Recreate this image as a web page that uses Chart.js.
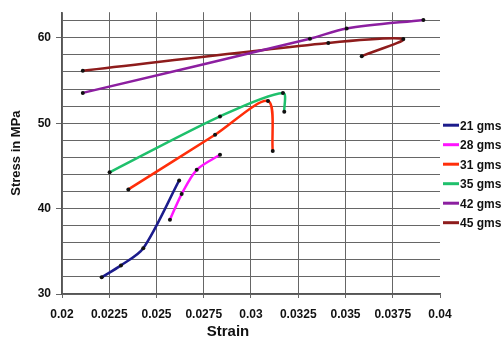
<!DOCTYPE html>
<html>
<head>
<meta charset="utf-8">
<script src="https://cdn.jsdelivr.net/npm/chart.js@4"></script>
<style>
  html, body { margin: 0; padding: 0; background: #fff; overflow: hidden; }
  canvas { display: block; }
</style>
</head>
<body>
<canvas id="stressChart" width="504" height="342"></canvas>
<script>
// values
const seriesLabels = ['21 gms', '28 gms', '31 gms', '35 gms', '42 gms', '45 gms'];
const seriesColors = ['#1c1c8c', '#ff14ff', '#ff2e0a', '#1fc06c', '#8c1fa0', '#8e1c1c'];

const strain21 = [0.0221, 0.02312, 0.0243, 0.0262];
const stress21 = [31.95, 33.35, 35.35, 43.3];
const strain28 = [0.02571, 0.02633, 0.02713, 0.02836];
const stress28 = [38.7, 41.7, 44.55, 46.3];
const strain31 = [0.02351, 0.0281, 0.0309, 0.03115];
const stress31 = [42.25, 48.65, 52.6, 46.75];
const strain35 = [0.02252, 0.02836, 0.03169, 0.03176];
const stress35 = [44.25, 50.8, 53.55, 51.35];
const strain42 = [0.0211, 0.03312, 0.03506, 0.03912];
const stress42 = [53.55, 59.9, 61.1, 62.1];
const strain45 = [0.0211, 0.03409, 0.03806, 0.03586];
const stress45 = [56.15, 59.4, 59.85, 57.85];

const xTicks = [0.02, 0.0225, 0.025, 0.0275, 0.03, 0.0325, 0.035, 0.0375, 0.04];
const yTicks = [30, 32, 34, 36, 38, 40, 42, 44, 46, 48, 50, 52, 54, 56, 58, 60, 62];

const strains = [strain21, strain28, strain31, strain35, strain42, strain45];
const stresses = [stress21, stress28, stress31, stress35, stress42, stress45];

const datasets = seriesLabels.map((label, i) => ({
  label: label,
  data: strains[i].map((x, j) => ({ x: x, y: stresses[i][j] })),
  showLine: true,
  borderColor: seriesColors[i],
  borderWidth: 2.5,
  tension: 0.3,
  pointRadius: 2,
  pointBackgroundColor: '#111',
  pointBorderWidth: 0,
}));

// legend on the right and the x title, placed like the original
const sideBits = {
  id: 'sideBits',
  afterDraw(chart) {
    const ctx = chart.ctx;
    const area = chart.chartArea;
    ctx.save();
    ctx.font = 'bold 12px "Liberation Sans", Arial, sans-serif';
    ctx.textBaseline = 'middle';
    ctx.textAlign = 'left';
    chart.data.datasets.forEach((ds, i) => {
      const y = area.top + 113 + i * 19.5;
      ctx.strokeStyle = ds.borderColor;
      ctx.lineWidth = 3;
      ctx.beginPath();
      ctx.moveTo(area.right + 3, y);
      ctx.lineTo(area.right + 19, y);
      ctx.stroke();
      ctx.fillStyle = '#111';
      ctx.fillText(ds.label, area.right + 20, y + 1);
    });
    ctx.font = 'bold 15px "Liberation Sans", Arial, sans-serif';
    ctx.textAlign = 'center';
    ctx.fillText('Strain', 228, 332);
    ctx.restore();
  },
};

new Chart(document.getElementById('stressChart').getContext('2d'), {
  type: 'scatter',
  data: { datasets: datasets },
  plugins: [sideBits],
  options: {
    responsive: false,
    animation: false,
    devicePixelRatio: 1,
    layout: { padding: { top: 7, right: 64, left: 0, bottom: 0 } },
    plugins: {
      legend: { display: false },
      tooltip: { enabled: false },
    },
    scales: {
      x: {
        type: 'linear',
        min: 0.02,
        max: 0.04,
        afterBuildTicks: (s) => { s.ticks = xTicks.map((v) => ({ value: v })); },
        afterFit: (s) => { s.height = 48; },
        ticks: {
          autoSkip: false,
          maxRotation: 0,
          padding: 9,
          color: '#111',
          font: { family: '"Liberation Sans", Arial, sans-serif', size: 12, weight: 'bold' },
          callback: (v) => String(+Number(v).toFixed(4)),
        },
        grid: {
          color: (c) => (c.tick && c.tick.value >= 0.04 ? 'rgba(0,0,0,0)' : '#666'),
          tickColor: '#666',
          tickLength: 4,
        },
        border: { color: '#555', width: 1.2 },
      },
      y: {
        type: 'linear',
        min: 30,
        max: 63,
        afterBuildTicks: (s) => { s.ticks = yTicks.map((v) => ({ value: v })); },
        afterFit: (s) => { s.width = 62; },
        title: {
          display: true,
          text: 'Stress in MPa',
          color: '#111',
          padding: { top: 9, bottom: 0 },
          font: { family: '"Liberation Sans", Arial, sans-serif', size: 13, weight: 'bold' },
        },
        ticks: {
          autoSkip: false,
          padding: 5,
          color: '#111',
          font: { family: '"Liberation Sans", Arial, sans-serif', size: 12, weight: 'bold' },
          callback: (v) => (v % 10 === 0 ? String(v) : ''),
        },
        grid: {
          color: '#666',
          tickColor: (c) => (c.tick && c.tick.value % 10 === 0 ? '#666' : 'rgba(0,0,0,0)'),
          tickLength: 6,
        },
        border: { color: '#555', width: 1.2 },
      },
    },
  },
});
</script>
</body>
</html>
